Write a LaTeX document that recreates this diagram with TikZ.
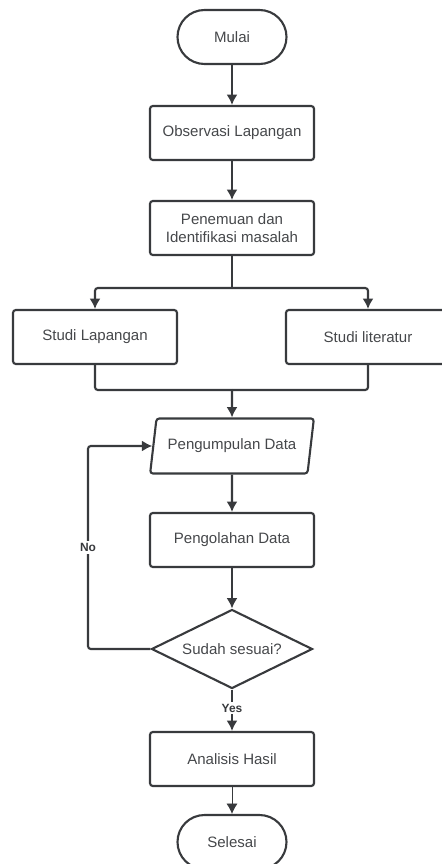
\documentclass[tikz,border=0pt]{standalone}
\usepackage{fontspec}
\setmainfont{Liberation Sans}
\usetikzlibrary{shapes.geometric,positioning,arrows.meta,calc}
\usepackage{xcolor}
\definecolor{lineclr}{HTML}{383A3D}
\definecolor{txtclr}{HTML}{45474A}

\begin{document}
\begin{tikzpicture}[
  line width=1.5pt, draw=lineclr,
  term/.style={draw=lineclr, rounded corners=0.675cm, minimum width=2.725cm, minimum height=1.35cm, align=center, text=txtclr, font=\fontsize{10.7}{12.8}\selectfont},
  proc/.style={draw=lineclr, rounded corners=2pt, minimum width=4.1cm, minimum height=1.35cm, align=center, text=txtclr, font=\fontsize{10.7}{12.8}\selectfont},
  io/.style={draw=lineclr, trapezium, trapezium stretches=true, trapezium left angle=76, trapezium right angle=104, rounded corners=2pt, minimum width=4.1cm, minimum height=1.375cm, text=txtclr, font=\fontsize{10.7}{12.8}\selectfont},
  cond/.style={draw=lineclr, diamond, aspect=2.04, minimum width=4.025cm, minimum height=1.975cm, inner sep=0pt, text=txtclr, font=\fontsize{10.7}{12.8}\selectfont},
  lbl/.style={fill=white, inner sep=1.5pt, text=lineclr, font=\fontsize{8.5}{10}\selectfont\bfseries},
  arr/.style={draw=lineclr, -{Latex[length=2.6mm,width=2.8mm]}}
]
  \useasboundingbox (0,0) rectangle (11.025,-21.6);

  \node[term] (mulai) at (5.8,-0.925) {Mulai};
  \node[proc] (obs) at (5.8,-3.325) {Observasi Lapangan};
  \node[proc] (temu) at (5.8,-5.7) {Penemuan dan\\Identifikasi masalah};
  \node[proc] (lap) at (2.375,-8.425) {Studi Lapangan};
  \node[proc] (lit) at (9.2,-8.425) {Studi literatur};
  \node[io] (kumpul) at (5.8,-11.15) {Pengumpulan Data};
  \node[proc] (olah) at (5.8,-13.5) {Pengolahan Data};
  \node[cond] (cek) at (5.8,-16.225) {Sudah sesuai?};
  \node[proc] (hasil) at (5.8,-18.975) {Analisis Hasil};
  \node[term] (selesai) at (5.8,-21.05) {Selesai};

  \coordinate (split) at (5.8,-7.2);
  \coordinate (join) at (5.8,-9.75);
  \coordinate (back) at (2.2,-16.225);

  \draw[arr] (mulai) -- (obs);
  \draw[arr] (obs) -- (temu);
  \draw (temu) -- (split);
  \draw[arr, rounded corners=2pt] (split) -| (lap.north);
  \draw[arr, rounded corners=2pt] (split) -| (lit.north);
  \draw[rounded corners=2pt] (lap.south) |- (join);
  \draw[rounded corners=2pt] (lit.south) |- (join);
  \draw[arr] (join) -- (kumpul);
  \draw[arr] (kumpul) -- (olah);
  \draw[arr] (olah) -- (cek);
  \draw[arr, rounded corners=2pt] (cek.west) -- (back) |- node[lbl, pos=0.25]{No} (kumpul.west);
  \draw[arr] (cek) -- node[lbl, pos=0.45]{Yes} (hasil);
  \draw[draw=lineclr, line width=0.6pt, -{Latex[length=2.6mm,width=2.8mm]}] (hasil) -- (selesai);
\end{tikzpicture}
\end{document}
